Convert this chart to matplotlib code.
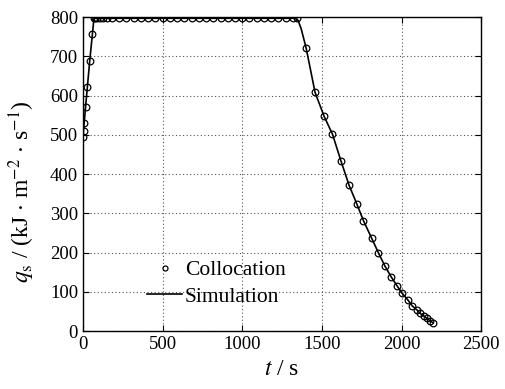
import numpy as np
import matplotlib.pyplot as plt

plt.rcParams['font.family'] = ['Liberation Serif', 'DejaVu Serif']
plt.rcParams['mathtext.fontset'] = 'stix'

# collocation nodes: time (s) and heat flux (kJ m^-2 s^-1)
t_col = [0, 4, 9, 16, 28, 42, 56, 69,
         78, 90, 106, 126, 150, 180, 227, 273, 318, 364, 409, 455, 500,
         545, 591, 636, 682, 727, 773, 818, 864, 909, 955, 1000,
         1045, 1091, 1136, 1182, 1227, 1273, 1318, 1346,
         1401, 1457, 1514, 1566, 1619, 1671, 1718, 1761, 1813, 1855,
         1895, 1935, 1972, 2004, 2040, 2067, 2096, 2117, 2138, 2159,
         2180, 2197]
q_col = [495, 510, 530, 570, 621, 687, 757, 797,
         797, 797, 797, 797, 797, 797, 797, 797, 797, 797, 797, 797, 797,
         797, 797, 797, 797, 797, 797, 797, 797, 797, 797, 797,
         797, 797, 797, 797, 797, 797, 797, 797,
         721, 608, 547, 502, 434, 371, 325, 281, 236, 199,
         166, 138, 115, 96, 79, 64, 54, 45, 39, 32,
         26, 21]

# simulated trajectory
t_sim = [0, 16, 42, 69, 700, 1330, 1350, 1370, 1401, 1457, 1514, 1566,
         1619, 1671, 1718, 1761, 1813, 1855, 1895, 1935, 1972, 2004,
         2040, 2067, 2096, 2117, 2138, 2159, 2180, 2197]
q_sim = [495, 570, 687, 797, 797, 797, 792, 770, 721, 608, 547, 502,
         434, 371, 325, 281, 236, 199, 166, 138, 115, 96,
         79, 64, 54, 45, 39, 32, 26, 21]

fig = plt.figure(figsize=(5.06, 3.89), dpi=100)
ax = fig.add_axes([0.164, 0.149, 0.787, 0.807])

ax.plot(t_col, q_col, 'o', mfc='none', mec='black', ms=4.8, mew=0.9,
        label='Collocation')
ax.plot(t_sim, q_sim, '-', color='black', lw=1.2, label='Simulation')

ax.set_xlim(0, 2500)
ax.set_ylim(0, 800)
ax.set_xticks(np.arange(0, 2501, 500))
ax.set_yticks(np.arange(0, 801, 100))
ax.grid(True, linestyle=(0, (1, 2.2)), color='#555555', lw=0.8)
ax.tick_params(direction='in', top=True, right=True, labelsize=13.5,
               length=4, width=0.8)
for s in ax.spines.values():
    s.set_linewidth(1.0)

ax.set_xlabel(r'$t$ / s', fontsize=17)
ax.xaxis.set_label_coords(0.5, -0.09)
ax.set_ylabel(r'$q_\mathrm{s}$ / (kJ $\cdot$ m$^{-2}$ $\cdot$ s$^{-1}$)',
              fontsize=17)
ax.yaxis.set_label_coords(-0.115, 0.445)

ax.legend(loc='lower left', bbox_to_anchor=(0.14, 0.05), frameon=False,
          fontsize=15.5, handlelength=1.6, handletextpad=0.15,
          labelspacing=0.3, markerscale=0.75, borderaxespad=0)

fig.savefig('out.png', dpi=100)
